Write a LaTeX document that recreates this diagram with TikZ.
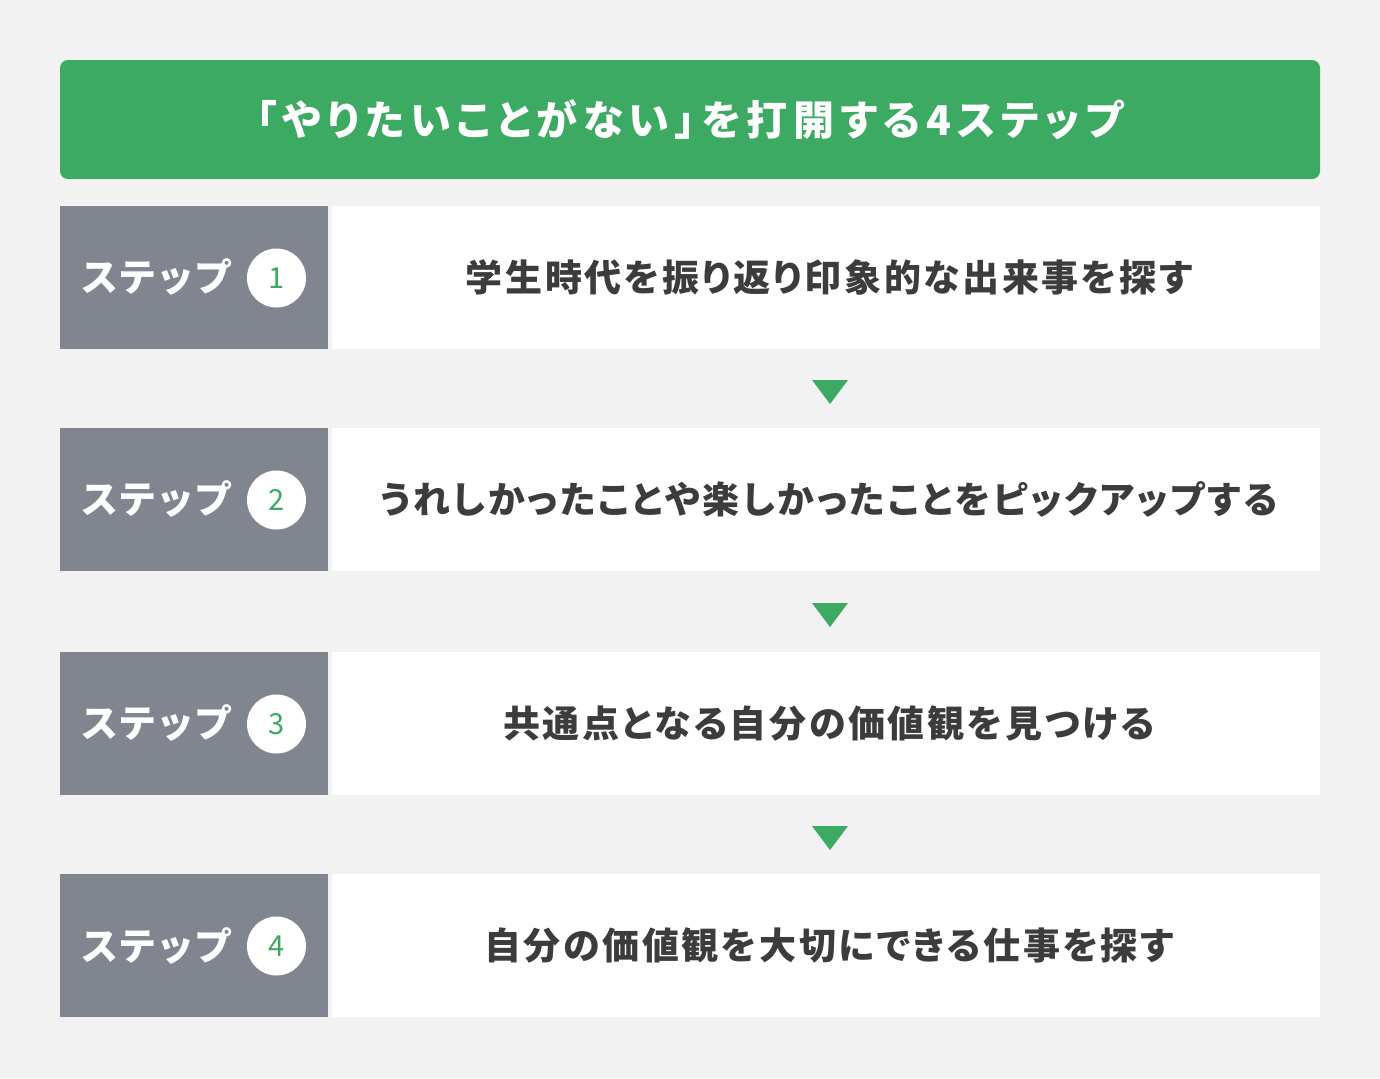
\documentclass[tikz,border=0pt]{standalone}
\usepackage{fontspec}
\usepackage{tikz}
\newfontfamily\jpfont{Noto Sans CJK JP}
\newfontfamily\jptitle{Noto Sans CJK JP}[RawFeature=+palt, LetterSpace=14]
\newfontfamily\jpwide{Noto Sans CJK JP}[RawFeature=+palt, LetterSpace=7]
\definecolor{mgreen}{HTML}{3DAA64}
\definecolor{mgray}{HTML}{80858F}
\definecolor{mback}{HTML}{F2F2F2}
\definecolor{mtext}{HTML}{3C3C3C}
\tikzset{stepbox/.style = {fill = mgray, inner sep = 0, minimum width = 134pt, minimum height = 71.5pt}}
\tikzset{whitebox/.style = {fill = white, inner sep = 0, minimum width = 494pt, minimum height = 71.5pt}}
\tikzset{steptext/.style = {inner sep = 0, text = mtext, font = \jpwide\bfseries\fontsize{18.5pt}{20pt}\selectfont}}
\tikzset{steplabel/.style = {anchor = west, inner sep = 0, text = white, font = \jpfont\bfseries\fontsize{19pt}{20pt}\selectfont}}
\tikzset{numcirc/.style = {circle, fill = white, inner sep = 0, minimum size = 29.5pt, text = mgreen,
    font = \jpfont\fontsize{14.5pt}{15pt}\selectfont}}
\tikzset{down/.style = {fill = mgreen}}

\begin{document}
\begin{tikzpicture}[x = 0.5pt, y = -0.5pt]
      \fill [mback] (0, 0) rectangle (1380, 1078);

      \node (title) [fill = mgreen, rounded corners = 4pt, inner sep = 0, minimum width = 630pt, minimum height = 59.5pt,
        text = white, font = \jptitle\bfseries\fontsize{20.5pt}{21pt}\selectfont] at (690, 119.5)
        {「やりたいことがない」を打開する4ステップ};

      \node (s1) [stepbox] at (194, 277.5) {};
      \node (w1) [whitebox] at (826, 277.5) {};
      \node (t1) [steptext] at (829, 277.5) {学生時代を振り返り印象的な出来事を探す};
      \node (l1) [steplabel] at (80, 277.5) {ステップ};
      \node (n1) [numcirc] at (276.5, 278) {1};

      \node (s2) [stepbox] at (194, 499.5) {};
      \node (w2) [whitebox] at (826, 499.5) {};
      \node (t2) [steptext] at (829, 499.5) {うれしかったことや楽しかったことをピックアップする};
      \node (l2) [steplabel] at (80, 499.5) {ステップ};
      \node (n2) [numcirc] at (276.5, 500) {2};

      \node (s3) [stepbox] at (194, 723.5) {};
      \node (w3) [whitebox] at (826, 723.5) {};
      \node (t3) [steptext] at (829, 723.5) {共通点となる自分の価値観を見つける};
      \node (l3) [steplabel] at (80, 723.5) {ステップ};
      \node (n3) [numcirc] at (276.5, 724) {3};

      \node (s4) [stepbox] at (194, 945.5) {};
      \node (w4) [whitebox] at (826, 945.5) {};
      \node (t4) [steptext] at (829, 945.5) {自分の価値観を大切にできる仕事を探す};
      \node (l4) [steplabel] at (80, 945.5) {ステップ};
      \node (n4) [numcirc] at (276.5, 946) {4};

      % arrows between the steps
      \fill [down] (812, 380) -- (848, 380) -- (830, 404) -- cycle;
      \fill [down] (812, 603) -- (848, 603) -- (830, 627) -- cycle;
      \fill [down] (812, 826) -- (848, 826) -- (830, 850) -- cycle;
\end{tikzpicture}
\end{document}
